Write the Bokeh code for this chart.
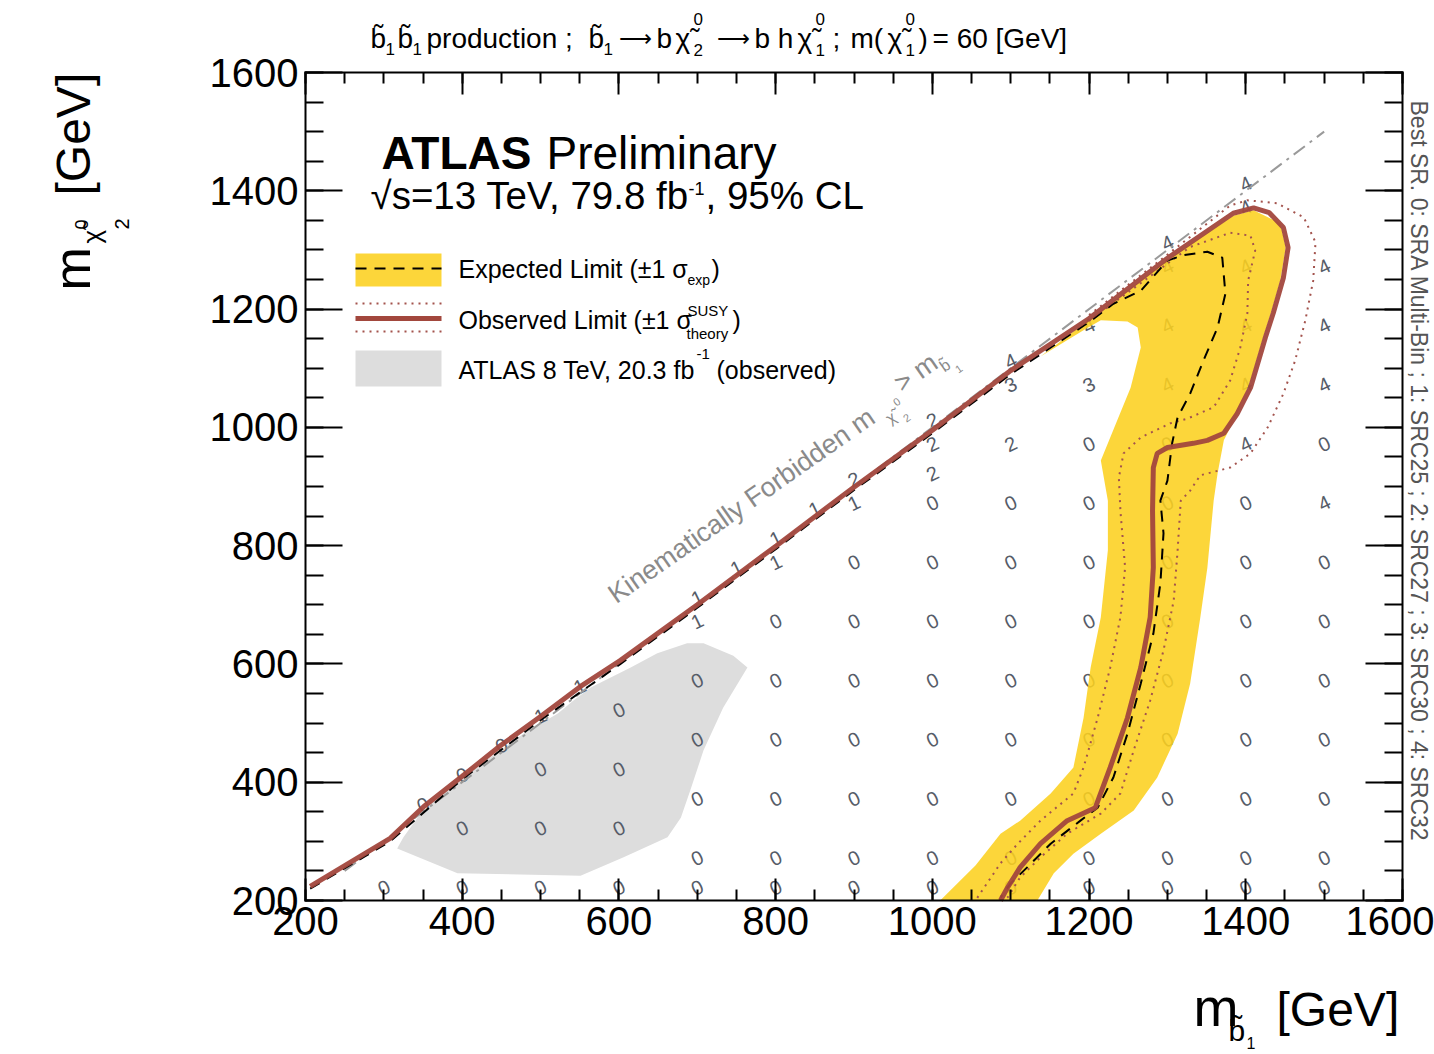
from math import pi, sin, cos
from bokeh.plotting import figure
from bokeh.models import Range1d, LinearAxis, FixedTicker, Label, ColumnDataSource
from bokeh.core.properties import value
from bokeh.embed import file_html
from bokeh.resources import INLINE

FONT = "Liberation Sans"

# ---------------- data ----------------
major_ticks = [200, 400, 600, 800, 1000, 1200, 1400, 1600]
minor_ticks = [200, 250, 300, 350, 400, 450, 500, 550, 600, 650, 700, 750, 800, 850,
               900, 950, 1000, 1050, 1100, 1150, 1200, 1250, 1300, 1350, 1400, 1450,
               1500, 1550, 1600]

# kinematic boundary m(chi2) = m(sbottom)
kin_x = [250, 1500]
kin_y = [250, 1500]

# observed limit
obs_x = [206, 308, 351, 400, 449, 500, 551, 602, 700, 801, 899, 1000, 1100, 1200, 1300,
         1384, 1410, 1430, 1448, 1454, 1448, 1435, 1425, 1419, 1406, 1389, 1372, 1351,
         1333, 1300, 1287, 1282, 1281, 1282, 1278, 1266, 1249, 1227, 1208, 1172, 1138,
         1112, 1096, 1087]
obs_y = [224, 305, 359, 410, 462, 511, 562, 606, 700, 800, 898, 995, 1096, 1184, 1286,
         1362, 1371, 1363, 1338, 1304, 1253, 1193, 1152, 1125, 1067, 1023, 990, 978,
         973, 966, 956, 932, 859, 763, 679, 594, 509, 425, 357, 335, 296, 256, 222, 200]

# observed +1 sigma (theory)
obs_up_x = [1200, 1300, 1380, 1402, 1440, 1474, 1489, 1486, 1476, 1463, 1448, 1428, 1406,
            1380, 1342, 1329, 1317, 1313, 1308, 1295, 1278, 1257, 1240, 1215, 1172, 1138,
            1112, 1096, 1092]
obs_up_y = [1190, 1292, 1375, 1384, 1379, 1355, 1313, 1248, 1181, 1113, 1057, 1000, 956,
            932, 919, 893, 876, 792, 707, 623, 538, 454, 381, 347, 313, 273, 239, 205, 200]

# observed -1 sigma (theory)
obs_dn_x = [1200, 1329, 1380, 1406, 1412, 1403, 1402, 1393, 1380, 1359, 1326, 1304, 1266,
            1244, 1238, 1240, 1246, 1240, 1227, 1211, 1193, 1180, 1138, 1109, 1087, 1055]
obs_dn_y = [1180, 1305, 1329, 1324, 1299, 1248, 1193, 1135, 1079, 1034, 1015, 1007, 983,
            956, 915, 859, 763, 679, 594, 509, 425, 381, 335, 296, 263, 200]

# expected limit
exp_x = [206, 308, 400, 500, 602, 700, 801, 899, 1000, 1100, 1200, 1231, 1266, 1300, 1320,
         1351, 1370, 1374, 1364, 1346, 1329, 1313, 1306, 1300, 1291, 1295, 1291, 1282,
         1266, 1249, 1231, 1211, 1189, 1151, 1121, 1100, 1087]
exp_y = [220, 300, 405, 505, 600, 695, 795, 893, 990, 1090, 1178, 1209, 1231, 1282, 1291,
         1297, 1287, 1226, 1169, 1113, 1057, 1017, 973, 910, 876, 821, 736, 651, 567, 482,
         408, 357, 335, 296, 256, 229, 205]

# expected +-1 sigma band
band_x = [1010, 1055, 1087, 1112, 1151, 1180, 1193, 1202, 1215, 1224, 1224, 1215, 1236,
          1253, 1266, 1262, 1249, 1215, 1195, 1163, 1138, 1200, 1300, 1384, 1410, 1444,
          1451, 1444, 1432, 1421, 1406, 1389, 1372, 1364, 1359, 1351, 1342, 1329, 1313,
          1287, 1257, 1215, 1180, 1155, 1134]
band_y = [200, 259, 313, 335, 381, 425, 509, 594, 679, 792, 876, 944, 1012, 1067, 1135,
          1169, 1179, 1181, 1166, 1140, 1120, 1182, 1283, 1358, 1367, 1345, 1304, 1248,
          1193, 1147, 1079, 1023, 978, 922, 876, 763, 679, 567, 482, 408, 352, 313, 279,
          246, 200]

# ATLAS 8 TeV observed exclusion
run1_x = [317, 394, 551, 606, 662, 679, 691, 708, 733, 764, 746, 708, 687, 649, 615, 564,
          542, 522, 478, 436, 394, 360, 343, 325]
run1_y = [288, 246, 242, 273, 307, 340, 386, 454, 526, 594, 614, 635, 635, 618, 594, 560,
          538, 516, 482, 442, 408, 364, 340, 307]

# best signal region per grid point
sr_mb1 = [300,
          350,
          400, 400, 400,
          450,
          500, 500, 500, 500,
          550,
          600, 600, 600, 600,
          700, 700, 700, 700, 700, 700, 700,
          750,
          800, 800, 800, 800, 800, 800, 800, 800,
          850,
          900, 900, 900, 900, 900, 900, 900, 900, 900,
          1000, 1000, 1000, 1000, 1000, 1000, 1000, 1000, 1000, 1000, 1000,
          1100, 1100, 1100, 1100, 1100, 1100, 1100, 1100, 1100, 1100, 1100,
          1200, 1200, 1200, 1200, 1200, 1200, 1200, 1200, 1200, 1200, 1200,
          1300, 1300, 1300, 1300, 1300, 1300, 1300, 1300, 1300, 1300, 1300, 1300, 1300,
          1400, 1400, 1400, 1400, 1400, 1400, 1400, 1400, 1400, 1400, 1400, 1400, 1400, 1400,
          1500, 1500, 1500, 1500, 1500, 1500, 1500, 1500, 1500, 1500, 1500, 1500]
sr_mchi2 = [200,
            340,
            200, 300, 390,
            440,
            200, 300, 400, 490,
            540,
            200, 300, 400, 500,
            200, 250, 350, 450, 550, 650, 690,
            740,
            200, 250, 350, 450, 550, 650, 750, 790,
            840,
            200, 250, 350, 450, 550, 650, 750, 850, 890,
            200, 250, 350, 450, 550, 650, 750, 850, 900, 950, 990,
            200, 250, 350, 450, 550, 650, 750, 850, 950, 1050, 1090,
            200, 250, 350, 450, 550, 650, 750, 850, 950, 1050, 1150,
            200, 250, 350, 450, 550, 650, 750, 850, 950, 1050, 1150, 1250, 1290,
            200, 250, 350, 450, 550, 650, 750, 850, 950, 1050, 1150, 1250, 1350, 1390,
            200, 250, 350, 450, 550, 650, 750, 850, 950, 1050, 1150, 1250]
sr_label = ["0",
            "0",
            "0", "0", "0",
            "0",
            "0", "0", "0", "1",
            "1",
            "0", "0", "0", "0",
            "0", "0", "0", "0", "0", "1", "1",
            "1",
            "0", "0", "0", "0", "0", "0", "1", "1",
            "1",
            "0", "0", "0", "0", "0", "0", "0", "1", "2",
            "0", "0", "0", "0", "0", "0", "0", "0", "2", "2", "2",
            "0", "0", "0", "0", "0", "0", "0", "0", "2", "3", "4",
            "0", "0", "0", "0", "0", "0", "0", "0", "0", "3", "4",
            "0", "0", "0", "0", "0", "0", "0", "0", "0", "4", "4", "4", "4",
            "0", "0", "0", "0", "0", "0", "0", "0", "4", "4", "4", "4", "4", "4",
            "0", "0", "0", "0", "0", "0", "0", "4", "0", "4", "4", "4"]

# ---------------- styles / layout ----------------
YELLOW = "#fcd01f"
YELLOW_ALPHA = 0.88
GREY = "#dddddd"
RED = "#a2473d"
RED_DOT = "#a3534d"
NUM_COL = "#565c68"

W, H = 1434, 1054
# plot box in canvas pixels: x 305..1402, y 72..900
SX = 1097 / 1400.0
SY = 828 / 1400.0


def dx(px):
    return 200 + (px - 305) / SX


def dy(py):
    return 200 + (900 - py) / SY


p = figure(width=W, height=H, x_range=Range1d(dx(0), dx(W)), y_range=Range1d(dy(H), dy(0)),
           output_backend="svg", toolbar_location=None, x_axis_type=None, y_axis_type=None,
           min_border=0, min_border_left=0, min_border_right=0, min_border_top=0,
           min_border_bottom=0)
p.outline_line_color = None
p.background_fill_color = "white"
p.border_fill_color = "white"


def make_axis(loc, show, tick_major, tick_minor, standoff=6):
    ax = LinearAxis(ticker=FixedTicker(ticks=major_ticks, minor_ticks=minor_ticks),
                    fixed_location=loc, bounds=(200, 1600))
    ax.axis_line_color = "black"
    ax.axis_line_width = 2
    ax.axis_line_cap = "square"
    ax.major_tick_in = tick_major
    ax.major_tick_out = 0
    ax.minor_tick_in = tick_minor
    ax.minor_tick_out = 0
    ax.major_tick_line_width = 2
    ax.minor_tick_line_width = 2
    ax.major_tick_line_color = "black"
    ax.minor_tick_line_color = "black"
    ax.major_label_text_font = FONT
    ax.major_label_text_color = "black"
    ax.major_label_text_font_size = "40px"
    ax.major_label_standoff = standoff
    if not show:
        ax.major_label_overrides = {t: "" for t in major_ticks}
        ax.major_label_text_alpha = 0
        ax.major_label_standoff = 0
    return ax


p.add_layout(make_axis(200, True, 22, 11, 6), "below")
p.add_layout(make_axis(200, True, 37, 18, 7), "left")
p.add_layout(make_axis(1600, False, 22, 11), "above")
p.add_layout(make_axis(1600, False, 37, 18), "right")

# ---------------- marks ----------------
p.patch(run1_x, run1_y, fill_color=GREY, line_color=None)

src = ColumnDataSource(dict(x=sr_mb1, y=sr_mchi2, t=sr_label))
p.text(x="x", y="y", text="t", source=src, angle=0.45, text_align="center",
       text_baseline="middle", y_offset=-13, text_font=value(FONT),
       text_font_size="20px", text_color=NUM_COL)

p.patch(band_x, band_y, fill_color=YELLOW, fill_alpha=YELLOW_ALPHA, line_color=None)

p.line(kin_x, kin_y, line_color="#9a9a9a", line_width=2, line_dash="14 6 3 6")

p.line(obs_up_x, obs_up_y, line_color=RED_DOT, line_width=2, line_dash="2 5")
p.line(obs_dn_x, obs_dn_y, line_color=RED_DOT, line_width=2, line_dash="2 5")
p.line(exp_x, exp_y, line_color="black", line_width=2, line_dash="11 8")
p.line(obs_x, obs_y, line_color=RED, line_width=5, line_alpha=0.95)

# ---------------- legend ----------------
lx0, lx1 = dx(355), dx(441)
p.quad(left=lx0, right=lx1, bottom=dy(286), top=dy(253), fill_color=YELLOW,
       fill_alpha=YELLOW_ALPHA, line_color=None)
p.line([lx0, lx1], [dy(268), dy(268)], line_color="black", line_width=2, line_dash="11 8")
p.line([lx0, lx1], [dy(303), dy(303)], line_color=RED_DOT, line_width=2, line_dash="2 5")
p.line([lx0, lx1], [dy(318), dy(318)], line_color=RED, line_width=5)
p.line([lx0, lx1], [dy(331), dy(331)], line_color=RED_DOT, line_width=2, line_dash="2 5")
p.quad(left=lx0, right=lx1, bottom=dy(386), top=dy(350), fill_color=GREY, line_color=None)

BASE_K = 0.35  # rendered baseline sits ~0.35 em below the anchor; compensate


def lab(text, px, py, size, angle=0.0, color="black", style="normal"):
    sx = px - BASE_K * size * sin(angle)
    sy = py - BASE_K * size * cos(angle)
    p.add_layout(Label(x=sx, y=sy, x_units="canvas", y_units="canvas", text=text,
                       angle=angle, text_font=FONT, text_font_size=f"{size}px",
                       text_color=color, text_font_style=style, text_align="left",
                       text_baseline="alphabetic"))


# legend texts
LS = 25
lab("Expected Limit (\u00b11 \u03c3", 458, 277, LS)
lab("exp", 687, 284, 14)
lab(")", 711, 277, LS)
lab("Observed Limit (\u00b11 \u03c3", 458, 328, LS)
lab("SUSY", 687, 315, 15)
lab("theory", 686, 338, 15)
lab(")", 732, 328, LS)
lab("ATLAS 8 TeV, 20.3 fb", 458, 378, LS)
lab("-1", 696, 359, 15)
lab("(observed)", 716, 378, LS)

# ATLAS label
lab("ATLAS", 381, 169, 46, style="bold")
lab("Preliminary", 546, 169, 46)
lab("\u221as=13 TeV, 79.8 fb", 370, 208, 38.5)
lab("-1", 688, 194, 18)
lab(", 95% CL", 705, 208, 38.5)

# title
TT = 28
TS = 17
lab("b\u0303", 370, 48, TT)
lab("1", 385, 54, TS)
lab("b\u0303", 397, 48, TT)
lab("1", 412, 54, TS)
lab("production ;", 426, 48, TT)
lab("b\u0303", 588, 48, TT)
lab("1", 603, 54, TS)
lab("\u27f6", 618, 46, 23)
lab("b", 656, 48, TT)
lab("\u03c7\u0303", 675, 48, TT)
lab("0", 693, 24, TS)
lab("2", 693, 55, TS)
lab("\u27f6", 716, 46, 23)
lab("b h", 754, 48, TT)
lab("\u03c7\u0303", 797, 48, TT)
lab("0", 815, 24, TS)
lab("1", 815, 55, TS)
lab(";", 832, 48, TT)
lab("m(", 850, 48, TT)
lab("\u03c7\u0303", 887, 48, TT)
lab("0", 905, 24, TS)
lab("1", 905, 55, TS)
lab(")", 918, 48, TT)
lab("= 60 [GeV]", 932, 48, TT)

# kinematic text
KA = 35 * pi / 180
KC = "#8a8a8a"
lab("Kinematically Forbidden m", 616, 604, 27, angle=KA, color=KC)
lab("\u03c7\u0303", 890, 424, 16, angle=KA, color=KC)
lab("0", 896, 406, 11, angle=KA, color=KC)
lab("2", 906, 422, 11, angle=KA, color=KC)
lab("> m", 902, 393, 27, angle=KA, color=KC)
lab("b\u0303", 944, 372, 16, angle=KA, color=KC)
lab("1", 958, 373, 11, angle=KA, color=KC)

# axis titles
lab("m", 90, 290, 52, angle=pi / 2)
lab("\u03c7\u0303", 101, 243, 26, angle=pi / 2)
lab("0", 87, 229, 18, angle=pi / 2)
lab("2", 128, 229, 20, angle=pi / 2)
lab("[GeV]", 90, 195, 48, angle=pi / 2)

lab("m", 1193, 1025, 54)
lab("b\u0303", 1228, 1040, 30)
lab("1", 1246, 1048, 16)
lab("[GeV]", 1276, 1026, 48)

# right side note
lab("Best SR. 0: SRA Multi-Bin ; 1: SRC25 ; 2: SRC27 ; 3: SRC30 ; 4: SRC32",
    1410, 100, 23, angle=-pi / 2, color="#555555")

open("out.html", "w").write(file_html(p, INLINE))
